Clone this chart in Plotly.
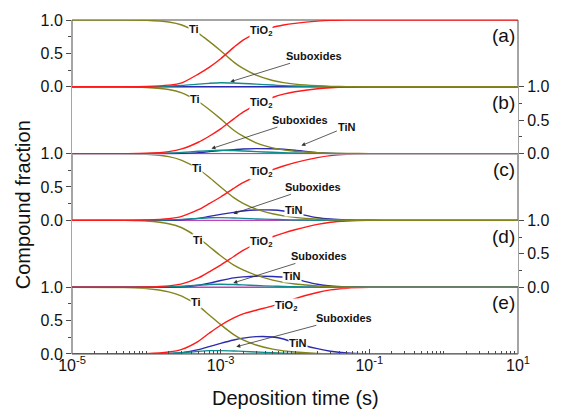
import plotly.graph_objects as go

# ---------------- data ----------------
time_s = [1e-5, 5e-5, 1e-4, 2e-4, 3e-4, 5e-4, 7e-4, 1e-3, 1.5e-3, 2e-3, 3e-3,
          5e-3, 7e-3, 1e-2, 2e-2, 3e-2, 5e-2, 1e-1, 2e-1, 1.0, 10.0]

panel_names = ["(a)", "(b)", "(c)", "(d)", "(e)"]

ti_a   = [1, 1, 0.995, 0.97, 0.925, 0.80, 0.68, 0.54, 0.37, 0.275, 0.175, 0.095, 0.062, 0.04, 0.015, 0.007, 0.002, 0, 0, 0, 0]
tio2_a = [0, 0, 0.005, 0.025, 0.06, 0.19, 0.29, 0.42, 0.59, 0.70, 0.80, 0.89, 0.925, 0.95, 0.983, 0.994, 0.998, 1, 1, 1, 1]
sub_a  = [0, 0, 0, 0.01, 0.02, 0.04, 0.052, 0.06, 0.056, 0.05, 0.04, 0.026, 0.018, 0.012, 0.005, 0.002, 0, 0, 0, 0, 0]
tin_a  = [0, 0, 0, 0, 0, 0, 0, 0, 0, 0, 0, 0, 0, 0, 0, 0, 0, 0, 0, 0, 0]

ti_b   = [1, 1, 0.99, 0.96, 0.91, 0.78, 0.66, 0.52, 0.35, 0.26, 0.16, 0.085, 0.055, 0.035, 0.012, 0.006, 0.002, 0, 0, 0, 0]
tio2_b = [0, 0, 0.005, 0.03, 0.07, 0.17, 0.26, 0.37, 0.52, 0.62, 0.73, 0.84, 0.89, 0.925, 0.97, 0.985, 0.996, 1, 1, 1, 1]
sub_b  = [0, 0, 0, 0.008, 0.018, 0.035, 0.045, 0.05, 0.046, 0.04, 0.03, 0.02, 0.014, 0.01, 0.004, 0.002, 0, 0, 0, 0, 0]
tin_b  = [0, 0, 0, 0, 0.005, 0.015, 0.03, 0.045, 0.06, 0.07, 0.075, 0.072, 0.065, 0.05, 0.014, 0.004, 0, 0, 0, 0, 0]

ti_c   = [1, 1, 0.99, 0.955, 0.90, 0.77, 0.645, 0.50, 0.34, 0.255, 0.17, 0.10, 0.068, 0.045, 0.018, 0.009, 0.003, 0, 0, 0, 0]
tio2_c = [0, 0, 0.005, 0.025, 0.06, 0.16, 0.25, 0.35, 0.48, 0.565, 0.66, 0.76, 0.815, 0.865, 0.94, 0.97, 0.99, 1, 1, 1, 1]
sub_c  = [0, 0, 0, 0.008, 0.015, 0.03, 0.04, 0.042, 0.037, 0.031, 0.022, 0.015, 0.01, 0.007, 0.003, 0.001, 0, 0, 0, 0, 0]
tin_c  = [0, 0, 0, 0, 0.01, 0.03, 0.06, 0.09, 0.12, 0.14, 0.155, 0.155, 0.14, 0.11, 0.04, 0.02, 0.008, 0.002, 0, 0, 0]

ti_d   = [1, 1, 0.99, 0.95, 0.89, 0.74, 0.61, 0.47, 0.33, 0.26, 0.18, 0.105, 0.072, 0.048, 0.018, 0.009, 0.003, 0, 0, 0, 0]
tio2_d = [0, 0, 0.003, 0.02, 0.05, 0.14, 0.23, 0.33, 0.46, 0.55, 0.65, 0.755, 0.81, 0.86, 0.94, 0.972, 0.99, 1, 1, 1, 1]
sub_d  = [0, 0, 0, 0.008, 0.015, 0.03, 0.04, 0.045, 0.04, 0.035, 0.025, 0.016, 0.011, 0.007, 0.003, 0.001, 0, 0, 0, 0, 0]
tin_d  = [0, 0, 0, 0, 0.005, 0.03, 0.06, 0.10, 0.14, 0.155, 0.165, 0.16, 0.15, 0.12, 0.045, 0.02, 0.006, 0.001, 0, 0, 0]

ti_e   = [1, 0.995, 0.98, 0.93, 0.865, 0.72, 0.585, 0.44, 0.29, 0.21, 0.135, 0.072, 0.047, 0.03, 0.01, 0.005, 0.002, 0, 0, 0, 0]
tio2_e = [0, 0, 0.005, 0.03, 0.07, 0.19, 0.31, 0.43, 0.54, 0.60, 0.655, 0.72, 0.77, 0.83, 0.92, 0.96, 0.985, 0.998, 1, 1, 1]
sub_e  = [0, 0, 0, 0.008, 0.018, 0.04, 0.05, 0.05, 0.045, 0.04, 0.03, 0.018, 0.012, 0.008, 0.003, 0.001, 0, 0, 0, 0, 0]
tin_e  = [0, 0, 0, 0.005, 0.02, 0.065, 0.11, 0.16, 0.21, 0.237, 0.26, 0.255, 0.225, 0.165, 0.08, 0.042, 0.014, 0.002, 0, 0, 0]

zero_line = [0] * len(time_s)

panels = [
    dict(ti=ti_a, tio2=tio2_a, sub=sub_a, tin=tin_a),
    dict(ti=ti_b, tio2=tio2_b, sub=sub_b, tin=tin_b),
    dict(ti=ti_c, tio2=tio2_c, sub=sub_c, tin=tin_c),
    dict(ti=ti_d, tio2=tio2_d, sub=sub_d, tin=tin_d),
    dict(ti=ti_e, tio2=tio2_e, sub=sub_e, tin=tin_e),
]

x_tickvals = [1e-5, 1e-3, 1e-1, 1e1]
x_ticktext = ["10<sup>-5</sup>", "10<sup>-3</sup>", "10<sup>-1</sup>", "10<sup>1</sup>"]
y_tickvals = [0, 0.5, 1.0]
y_ticktext = ["0.0", "0.5", "1.0"]

# label positions per panel: (x in log10 s, y fraction)
label_ti   = [(-3.36, 0.865), (-3.34, 0.81), (-3.32, 0.79), (-3.31, 0.71), (-3.337, 0.775)]
label_tio2 = [(-2.46, 0.835), (-2.46, 0.75), (-2.46, 0.72), (-2.46, 0.68), (-2.127, 0.726)]
# Suboxides: arrow head (x, y) and text-centre offset in pixels (ax, ay)
arrow_sub  = [(-2.87, 0.075, 84, -26), (-3.124, 0.075, 89, -29), (-2.83, 0.10, 80, -27),
              (-2.83, 0.064, 86, -27), (-2.79, 0.108, 108, -29)]
label_tin  = [None, None, (-2.007, 0.155), (-2.047, 0.163), (-1.954, 0.167)]
arrow_tin  = [None, (-1.914, 0.12, 46, -19), None, None, None]

# ---------------- styling ----------------
C_TI = "#84841f"
C_TIO2 = "#ff1a1a"
C_SUB = "#0f8c8c"
C_TIN = "#2b2bb0"
C_ZERO = "#c040c0"
FONT = "Liberation Sans, Arial, sans-serif"
AXC = "#4a4a4a"

fig = go.Figure()

axis_ids = ["y5", "y4", "y3", "y2", "y"]  # a..e (a on top)
for i, p in enumerate(panels):
    ya = axis_ids[i]
    for vals, col in [(zero_line, C_ZERO), (p["tin"], C_TIN), (p["sub"], C_SUB),
                      (p["ti"], C_TI), (p["tio2"], C_TIO2)]:
        fig.add_trace(go.Scatter(x=time_s, y=vals, mode="lines", xaxis="x", yaxis=ya,
                                 line=dict(color=col, width=1.4, shape="spline", smoothing=0.8),
                                 showlegend=False, hoverinfo="skip"))

minor_x = sorted([m * 10 ** e for e in range(-5, 1) for m in range(2, 10)] + [1e-4, 1e-2, 1e0])

layout = dict(
    width=562, height=413,
    margin=dict(l=72, r=39, t=16, b=59),
    paper_bgcolor="white", plot_bgcolor="white",
    font=dict(family=FONT, color="#111", size=16),
    xaxis=dict(type="log", range=[-5, 1], anchor="y", domain=[0, 1],
               tickmode="array", tickvals=x_tickvals, ticktext=x_ticktext,
               ticks="inside", ticklen=5, tickcolor=AXC, showgrid=False, zeroline=False,
               showline=False, tickfont=dict(size=16),
               minor=dict(ticks="inside", ticklen=3, tickcolor=AXC, showgrid=False,
                          tickmode="array", tickvals=minor_x)),
    showlegend=False,
)

pad = 0.015
for i, ya in enumerate(axis_ids):
    k = 4 - i  # 0 bottom .. 4 top
    lo = 0 if k == 0 else -pad
    hi = 1 if k == 4 else 1 + pad
    d0 = k * 0.2 + lo * 0.2
    d1 = (k + 1) * 0.2 + (hi - 1) * 0.2
    side = "left" if i % 2 == 0 else "right"
    key = "yaxis" if ya == "y" else "yaxis" + ya[1:]
    layout[key] = dict(domain=[max(0, d0), min(1, d1)], range=[lo, hi], anchor="x", side=side,
                       tickmode="array", tickvals=y_tickvals, ticktext=y_ticktext,
                       ticks="outside", ticklen=5, tickcolor=AXC, showgrid=False,
                       zeroline=False, showline=False, tickfont=dict(size=16),
                       minor=dict(ticks="outside", ticklen=3, tickcolor=AXC,
                                  tickmode="array", tickvals=[0.25, 0.75], showgrid=False))

fig.update_layout(**layout)

fig.add_shape(type="rect", xref="paper", yref="paper", x0=0, x1=1, y0=0, y1=1,
              line=dict(color=AXC, width=1), layer="below")

ann = []
lab_font = dict(family=FONT, size=11, color="#111")
for i in range(5):
    ya = axis_ids[i]
    x, y = label_ti[i]
    ann.append(dict(x=x, y=y, xref="x", yref=ya, text="<b>Ti</b>", showarrow=False,
                    font=lab_font, bgcolor="white", borderpad=0))
    x, y = label_tio2[i]
    ann.append(dict(x=x, y=y, xref="x", yref=ya, text="<b>TiO<sub>2</sub></b>", showarrow=False,
                    font=lab_font, bgcolor="white", borderpad=0))
    x, y, ax, ay = arrow_sub[i]
    ann.append(dict(x=x, y=y, xref="x", yref=ya, text="<b>Suboxides</b>", showarrow=True,
                    ax=ax, ay=ay, font=lab_font,
                    arrowhead=2, arrowsize=1, arrowwidth=0.8, arrowcolor="#333"))
    if label_tin[i] is not None:
        x, y = label_tin[i]
        ann.append(dict(x=x, y=y, xref="x", yref=ya, text="<b>TiN</b>", showarrow=False,
                        font=lab_font, bgcolor="white", borderpad=0))
    if arrow_tin[i] is not None:
        x, y, ax, ay = arrow_tin[i]
        ann.append(dict(x=x, y=y, xref="x", yref=ya, text="<b>TiN</b>", showarrow=True,
                        ax=ax, ay=ay, font=lab_font,
                        arrowhead=2, arrowsize=1, arrowwidth=0.8, arrowcolor="#333"))
    # panel letter
    ann.append(dict(x=0.998, y=(4 - i + 1) * 0.2 - 0.047, xref="paper", yref="paper",
                    text=panel_names[i], showarrow=False, xanchor="right", yanchor="middle",
                    font=dict(family=FONT, size=19, color="#111")))

ann.append(dict(x=-0.111, y=0.447, xref="paper", yref="paper", text="Compound fraction",
                textangle=-90, showarrow=False, xanchor="center", yanchor="middle",
                font=dict(family=FONT, size=20, color="#111")))
ann.append(dict(x=0.5, y=-0.133, xref="paper", yref="paper", text="Deposition time (s)",
                showarrow=False, xanchor="center", yanchor="middle",
                font=dict(family=FONT, size=20, color="#111")))
fig.update_layout(annotations=ann)

fig.write_html("out.html")
